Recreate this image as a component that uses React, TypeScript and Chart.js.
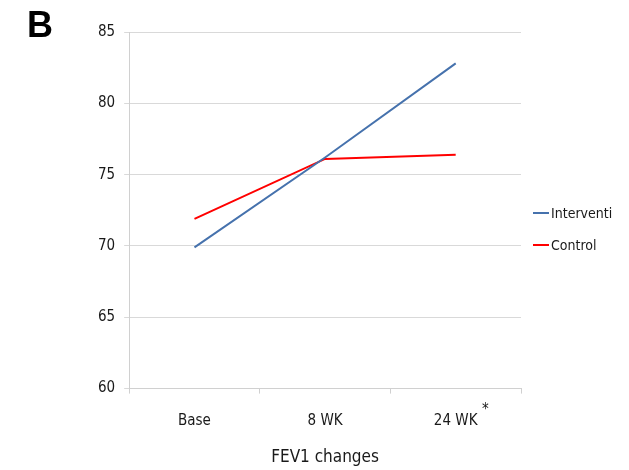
import React, { useEffect, useRef } from "react";
import { Chart, registerables } from "chart.js";

Chart.register(...registerables);

const categories = ["Base", "8 WK", "24 WK"];
const interventionValues = [69.9, 76.2, 82.8];
const controlValues = [71.9, 76.1, 76.4];
const seriesNames = ["Interventi", "Control"];
const seriesColors = ["#4672ad", "#ff0000"];
const yTicks = { min: 60, max: 85, step: 5 };

const FONT = "'DejaVu Sans Condensed', 'Liberation Sans Narrow', sans-serif";

export default function App() {
  const ref = useRef<HTMLCanvasElement | null>(null);
  useEffect(() => {
    if (!ref.current) return;
    const chart = new Chart(ref.current, {
      type: "line",
      data: {
        labels: categories,
        datasets: [
          {
            label: seriesNames[0],
            data: interventionValues,
            borderColor: seriesColors[0],
            backgroundColor: seriesColors[0],
            borderWidth: 2,
            pointRadius: 0,
            tension: 0,
          },
          {
            label: seriesNames[1],
            data: controlValues,
            borderColor: seriesColors[1],
            backgroundColor: seriesColors[1],
            borderWidth: 2,
            pointRadius: 0,
            tension: 0,
          },
        ],
      },
      options: {
        animation: false,
        responsive: true,
        maintainAspectRatio: false,
        layout: { padding: { left: 89, right: 108, top: 32, bottom: 0 } },
        plugins: {
          tooltip: { enabled: false },
          legend: { display: false },
        },
        scales: {
          x: {
            offset: true,
            grid: {
              display: true,
              drawOnChartArea: false,
              offset: true,
              tickLength: 5,
              color: "#d0d0d0",
            },
            border: { color: "#d0d0d0" },
            ticks: {
              color: "#1a1a1a",
              font: { family: FONT, size: 15 },
              padding: 19,
            },
            title: {
              display: true,
              text: "FEV1 changes",
              color: "#1a1a1a",
              font: { family: FONT, size: 17 },
              padding: { top: -2, bottom: 2 },
            },
          },
          y: {
            min: yTicks.min,
            max: yTicks.max,
            grid: { color: "#d9d9d9", tickLength: 5 },
            border: { color: "#d0d0d0" },
            ticks: {
              stepSize: yTicks.step,
              color: "#1a1a1a",
              font: { family: FONT, size: 15 },
              padding: 9,
            },
          },
        },
      },
    });
    return () => chart.destroy();
  }, []);

  const legendItem = (i: number, top: number) => (
    <div
      key={i}
      style={{
        position: "absolute",
        left: 533,
        top: top - 9,
        height: 18,
        display: "flex",
        alignItems: "center",
        fontFamily: FONT,
        fontSize: 14,
        color: "#1a1a1a",
        whiteSpace: "nowrap",
      }}
    >
      <span style={{ display: "inline-block", width: 16, height: 2, background: seriesColors[i], marginRight: 2 }} />
      <span>{seriesNames[i]}</span>
    </div>
  );

  return (
    <div style={{ position: "fixed", left: 0, top: 0, width: 629, height: 470, background: "#fff" }}>
      <canvas ref={ref} />
      <div
        style={{
          position: "absolute",
          left: 27,
          top: 7,
          lineHeight: 1,
          fontFamily: "'Liberation Sans', Arial, sans-serif",
          fontWeight: "bold",
          fontSize: 36,
          color: "#000",
        }}
      >
        B
      </div>
      {legendItem(0, 213)}
      {legendItem(1, 245)}
      <div
        style={{
          position: "absolute",
          left: 482,
          top: 400,
          fontFamily: FONT,
          fontSize: 15,
          color: "#1a1a1a",
        }}
      >
        *
      </div>
    </div>
  );
}
